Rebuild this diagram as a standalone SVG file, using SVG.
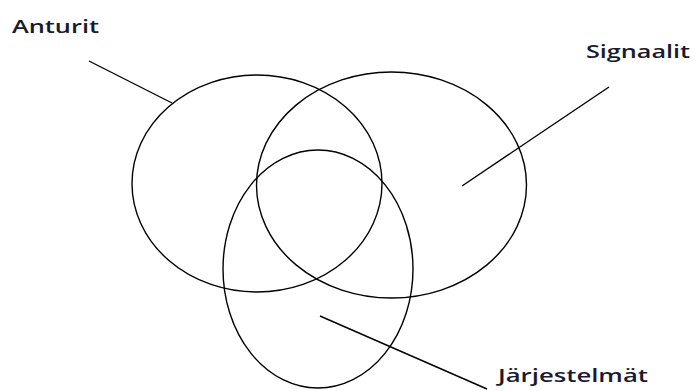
<svg xmlns="http://www.w3.org/2000/svg" width="695" height="391" viewBox="0 0 695 391">
<style>
.set{fill:none;stroke:#000;stroke-width:1.4}
.ln{stroke:#000;stroke-width:1.4;fill:none}
.lbl{font-family:"Open Sans","Liberation Sans",sans-serif;font-size:18px;font-weight:600;fill:#1a1a2e}
</style>
<rect width="695" height="391" fill="#fff"/>
<g id="anturit">
<ellipse class="set" cx="257" cy="183.5" rx="125" ry="108.5"/>
<text class="lbl" x="12" y="33" textLength="87" lengthAdjust="spacingAndGlyphs">Anturit</text>
</g>
<g id="signaalit">
<ellipse class="set" cx="391.5" cy="185" rx="135" ry="113"/>
<text class="lbl" x="586" y="58" textLength="104" lengthAdjust="spacingAndGlyphs">Signaalit</text>
</g>
<g id="jarjestelmat">
<ellipse class="set" cx="318" cy="269" rx="95" ry="119"/>
<text class="lbl" x="498" y="382" textLength="150" lengthAdjust="spacingAndGlyphs">Järjestelmät</text>
</g>
<g id="connectors">
<line class="ln" x1="89" y1="61" x2="172" y2="103"/>
<line class="ln" x1="609" y1="87" x2="462" y2="186"/>
<line class="ln" x1="320" y1="316" x2="487" y2="389"/>
</g>
</svg>
